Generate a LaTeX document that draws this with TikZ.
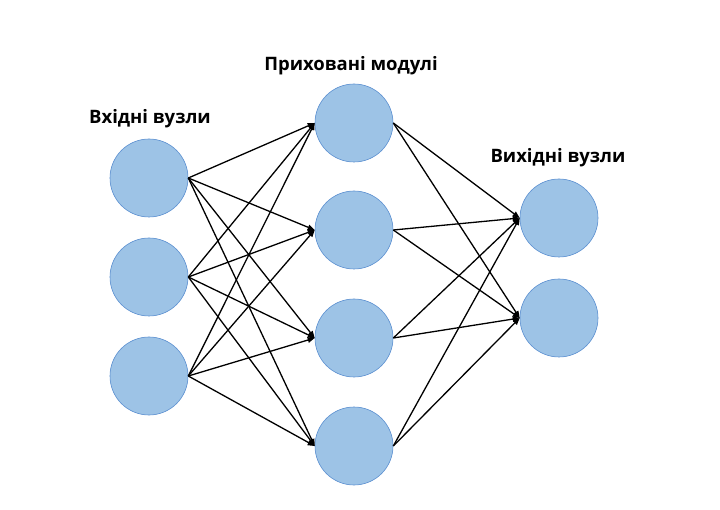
\documentclass[tikz,border=0pt]{standalone}
\usepackage{fontspec}
\setmainfont{Open Sans}
\usetikzlibrary{arrows.meta}
\definecolor{nodefill}{HTML}{9DC3E6}
\definecolor{nodeline}{HTML}{5B8FD0}
\begin{document}
\begin{tikzpicture}[x=1pt,y=-1pt,
  neuron/.style={circle,draw=nodeline,line width=0.6pt,fill=nodefill,minimum size=78pt,inner sep=0pt},
  conn/.style={line width=1.3pt,-{Triangle[length=7pt,width=5.5pt]}},
  lbl/.style={font=\bfseries\fontsize{18.5}{20}\selectfont}]
\useasboundingbox (0,0) rectangle (720,510);
\node[neuron] (i1) at (149,178) {};
\node[neuron] (i2) at (149,277) {};
\node[neuron] (i3) at (149,376) {};
\node[neuron] (h1) at (354,123) {};
\node[neuron] (h2) at (354,230) {};
\node[neuron] (h3) at (354,338) {};
\node[neuron] (h4) at (354,446) {};
\node[neuron] (o1) at (559,218) {};
\node[neuron] (o2) at (559,318) {};
\node[lbl] (t1) at (150,119) {Вхідні вузли};
\node[lbl] (t2) at (351,66) {Приховані модулі};
\node[lbl] (t3) at (558,158) {Вихідні вузли};
\foreach \a in {i1,i2,i3}{
  \foreach \b in {h1,h2,h3,h4}{
    \draw[conn] (\a.east) -- (\b.west);
  }
}
\foreach \a in {h1,h2,h3,h4}{
  \foreach \b in {o1,o2}{
    \draw[conn] (\a.east) -- (\b.west);
  }
}
\end{tikzpicture}
\end{document}
